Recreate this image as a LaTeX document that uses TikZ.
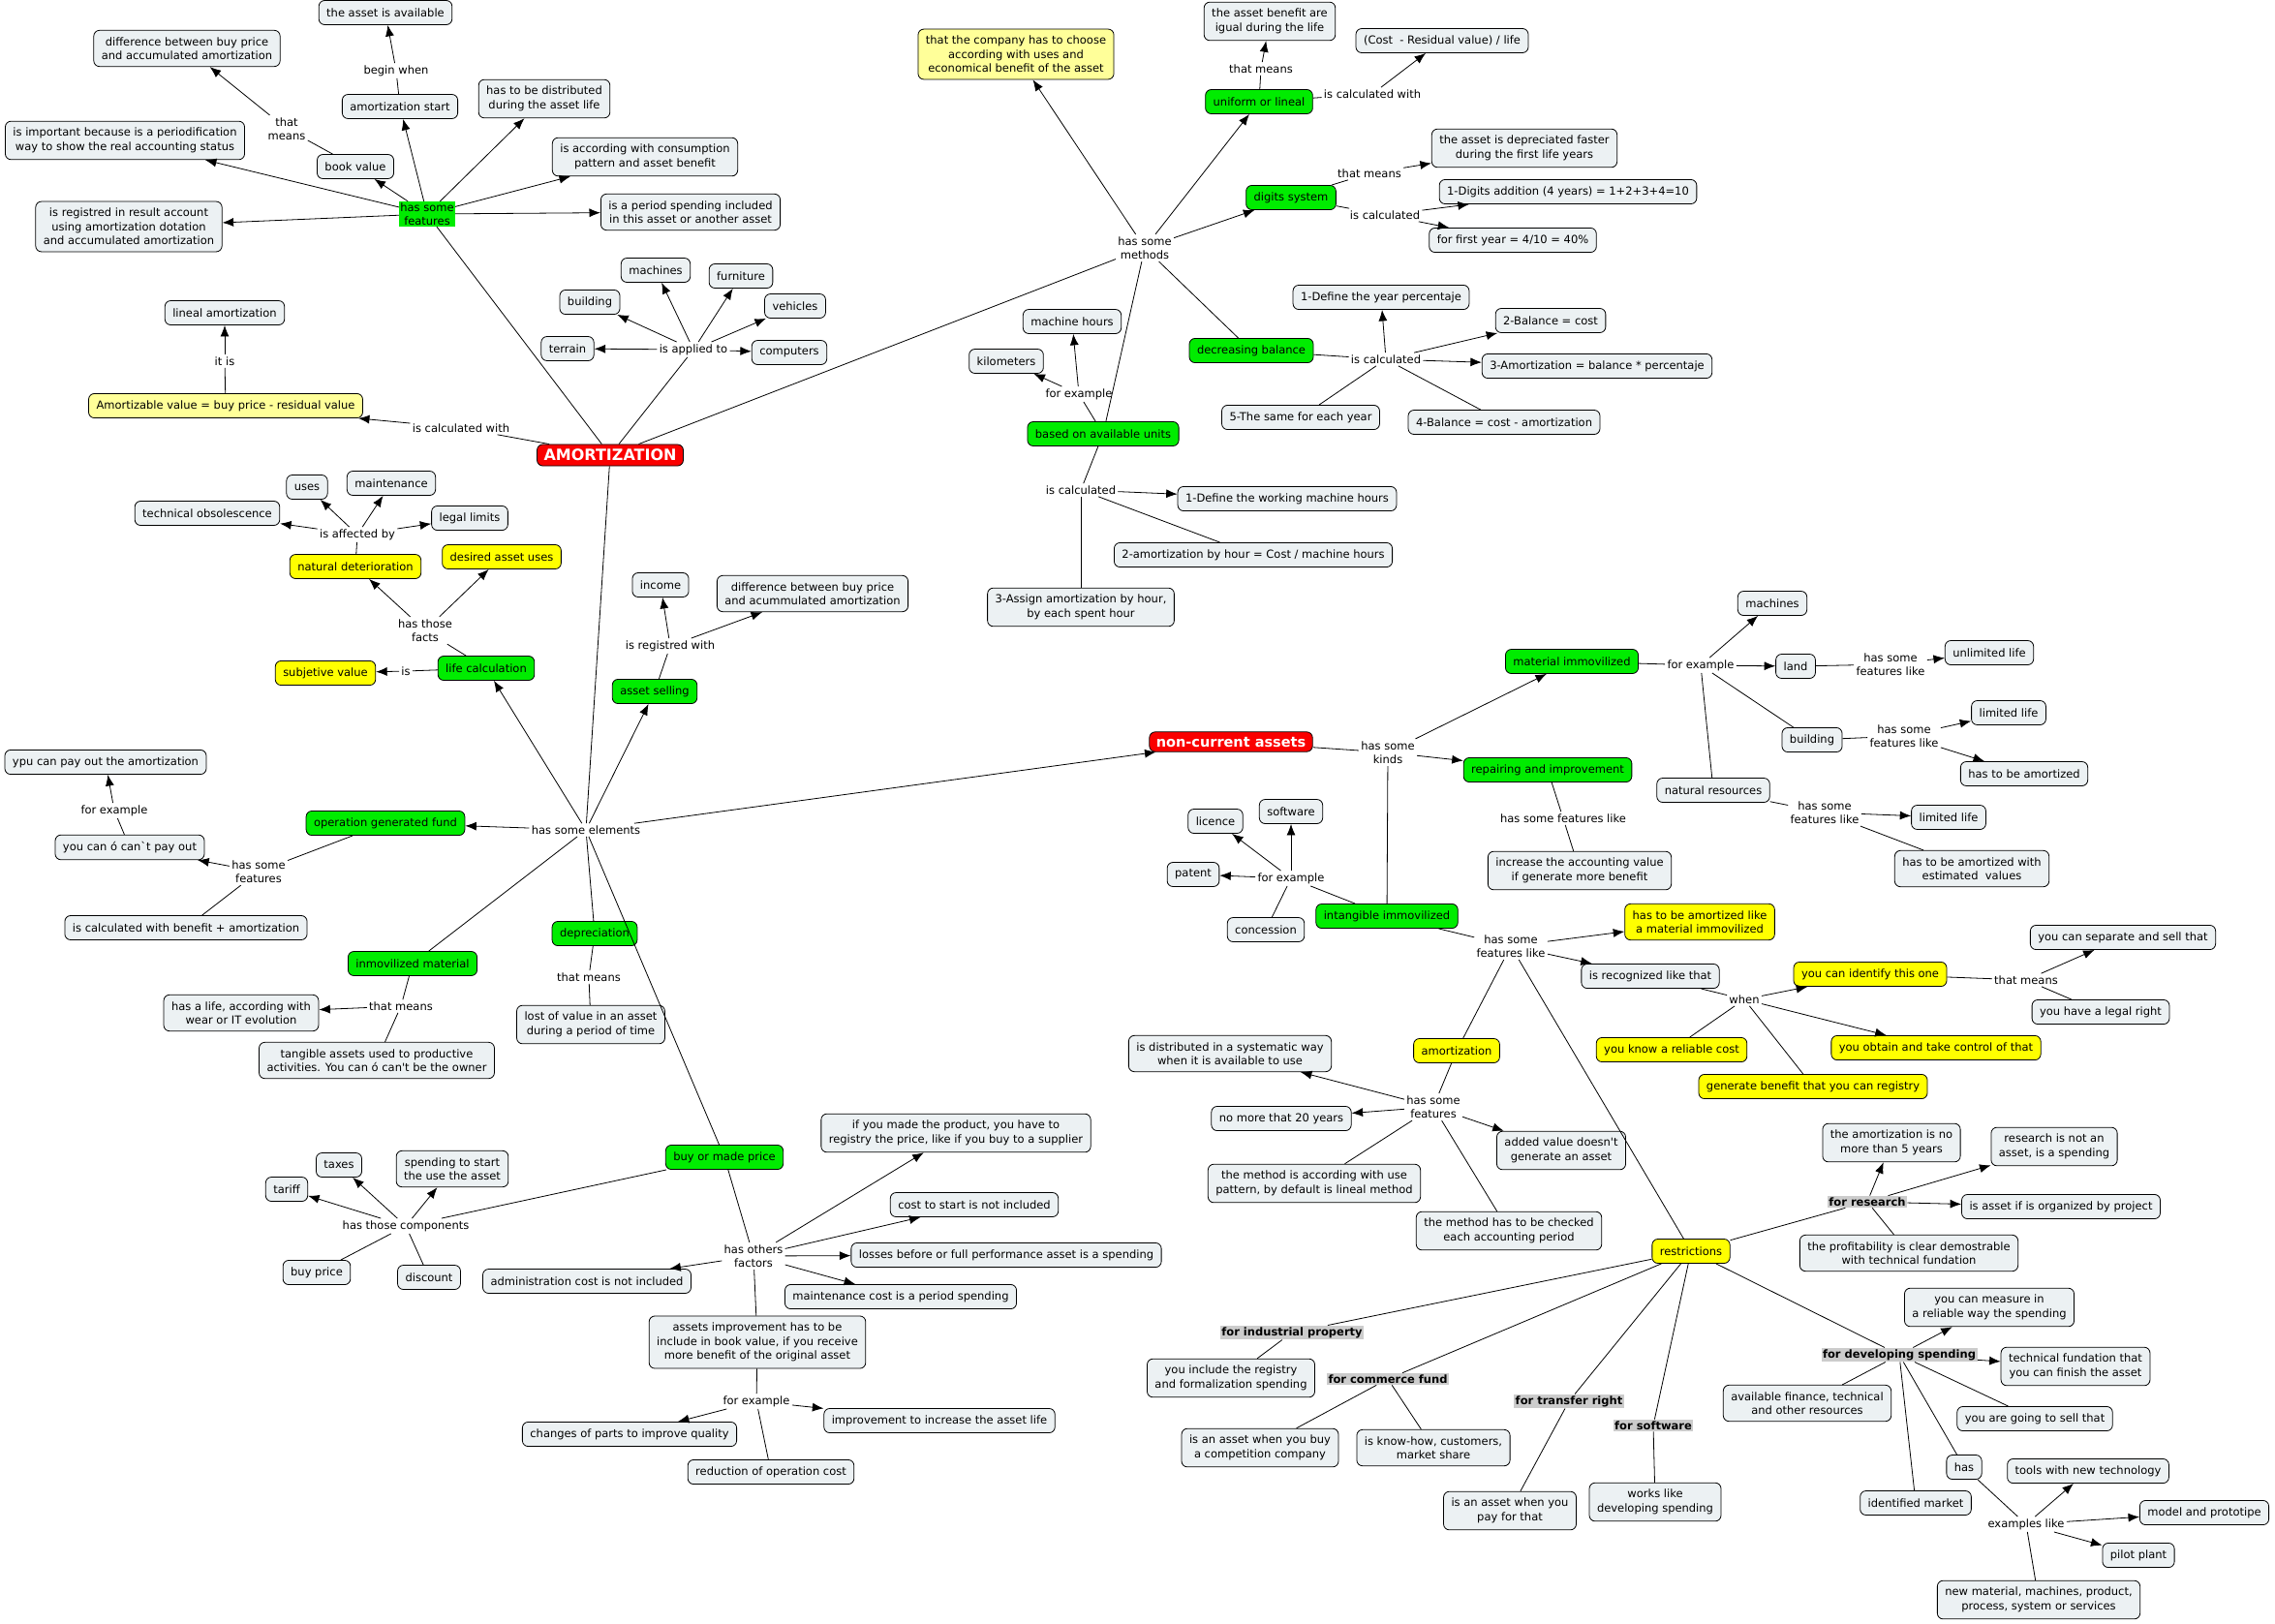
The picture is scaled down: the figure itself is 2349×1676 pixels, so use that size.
\documentclass[tikz,border=0pt]{standalone}
\usepackage{fontspec}
\setmainfont{DejaVu Sans}
\usetikzlibrary{arrows.meta}

\begin{document}
\begin{tikzpicture}[x=1pt,y=-1pt,>={Latex[length=11.5pt,width=9pt]},line width=0.8pt,
  every node/.style={font=\fontsize{11.5}{14.5}\selectfont,align=center},
  concept/.style={draw,rounded corners=6pt,fill=cbox,inner xsep=8pt,inner ysep=7pt,minimum height=25pt},
  greenc/.style={concept,fill=cgreen},
  yellc/.style={concept,fill=cyellow},
  paley/.style={concept,fill=cpale},
  mainc/.style={draw,rounded corners=6pt,fill=cred,text=white,inner xsep=7pt,inner ysep=5pt,
    font=\fontsize{14.5}{17}\selectfont\bfseries},
  lbl/.style={inner sep=2pt},
  greenlbl/.style={fill=cgreen,inner sep=1pt},
  greylbl/.style={fill=cgrey,inner sep=1.5pt,font=\fontsize{11.5}{14.5}\selectfont\bfseries}]

\definecolor{cbox}{RGB}{236,241,243}
\definecolor{cgreen}{RGB}{0,236,0}
\definecolor{cyellow}{RGB}{255,255,0}
\definecolor{cpale}{RGB}{255,255,153}
\definecolor{cred}{RGB}{250,0,0}
\definecolor{cgrey}{RGB}{204,204,204}

\path[use as bounding box,fill=white] (0,0) rectangle (2349,1676);

\node[concept] (avail) at (398,13) {the asset is available};
\node[concept] (diffbook) at (193,50) {difference between buy price\\and accumulated amortization};
\node[lbl] (beginw) at (409,73) {begin when};
\node[concept] (amstart) at (413,110) {amortization start};
\node[concept] (distrib) at (562,102) {has to be distributed\\during the asset life};
\node[lbl] (thatm1) at (296,133) {that\\means};
\node[concept] (important) at (129,145) {is important because is a periodification\\way to show the real accounting status};
\node[concept] (bookval) at (367,172) {book value};
\node[concept] (consum) at (666,162) {is according with consumption\\pattern and asset benefit};
\node[greenlbl] (feat1) at (441,221) {has some\\features};
\node[concept] (registred) at (133,234) {is registred in result account\\using amortization dotation\\and accumulated amortization};
\node[concept] (period) at (713,219) {is a period spending included\\in this asset or another asset};
\node[concept] (lineal) at (232,323) {lineal amortization};
\node[lbl] (itis) at (232,373) {it is};
\node[paley] (amortizable) at (233,419) {Amortizable value = buy price - residual value};
\node[lbl] (calcw) at (476,442) {is calculated with};
\node[mainc,font=\fontsize{16}{19}\selectfont\bfseries] (amort) at (630,470) {AMORTIZATION};

\node[concept] (machines1) at (677,279) {machines};
\node[concept] (furniture) at (765,285) {furniture};
\node[concept] (building1) at (609,312) {building};
\node[concept] (vehicles) at (821,316) {vehicles};
\node[concept] (terrain) at (586,360) {terrain};
\node[lbl] (applied) at (716,361) {is applied to};
\node[concept] (computers) at (815,364) {computers};

\node[concept] (uses) at (317,503) {uses};
\node[concept] (maint) at (404,499) {maintenance};
\node[concept] (obsol) at (214,530) {technical obsolescence};
\node[concept] (legal) at (485,535) {legal limits};
\node[lbl] (affected) at (369,552) {is affected by};
\node[yellc] (natdet) at (367,585) {natural deterioration};
\node[yellc] (desired) at (518,575) {desired asset uses};
\node[lbl] (facts) at (439,651) {has those\\facts};
\node[yellc] (subj) at (336,695) {subjetive value};
\node[lbl] (is1) at (419,693) {is};
\node[greenc] (lifecalc) at (502,690) {life calculation};

\node[paley] (choose) at (1049,56) {that the company has to choose\\according with uses and\\economical benefit of the asset};
\node[lbl] (methods) at (1182,256) {has some\\methods};
\node[concept] (benefit) at (1311,22) {the asset benefit are\\igual during the life};
\node[concept] (costres) at (1489,42) {(Cost\ \ - Residual value) / life};
\node[lbl] (thatm2) at (1302,71) {that means};
\node[greenc] (uniform) at (1300,105) {uniform or lineal};
\node[lbl] (calcw2) at (1417,97) {is calculated with};
\node[concept] (faster) at (1574,153) {the asset is depreciated faster\\during the first life years};
\node[lbl] (thatm3) at (1414,179) {that means};
\node[greenc] (digits) at (1333,204) {digits system};
\node[concept] (digadd) at (1619,198) {1-Digits addition (4 years) = 1+2+3+4=10};
\node[lbl] (calc3) at (1430,222) {is calculated};
\node[concept] (firstyr) at (1562,248) {for first year = 4/10 = 40\%};
\node[concept] (defyear) at (1426,307) {1-Define the year percentaje};
\node[concept] (balcost) at (1601,331) {2-Balance = cost};
\node[greenc] (decbal) at (1292,362) {decreasing balance};
\node[lbl] (calc4) at (1431,371) {is calculated};
\node[concept] (amortbal) at (1649,378) {3-Amortization = balance * percentaje};
\node[concept] (same) at (1343,431) {5-The same for each year};
\node[concept] (balamort) at (1553,436) {4-Balance = cost - amortization};
\node[concept] (machhours) at (1107,332) {machine hours};
\node[concept] (km) at (1039,373) {kilometers};
\node[lbl] (forex1) at (1114,407) {for example};
\node[greenc] (units) at (1139,448) {based on available units};
\node[lbl] (calc5) at (1116,506) {is calculated};
\node[concept] (defwork) at (1329,515) {1-Define the working machine hours};
\node[concept] (amorthour) at (1294,573) {2-amortization by hour = Cost / machine hours};
\node[concept] (assign) at (1116,627) {3-Assign amortization by hour,\\by each spent hour};

\node[concept] (income) at (682,604) {income};
\node[concept] (diffsell) at (839,613) {difference between buy price\\and acummulated amortization};
\node[lbl] (regw) at (692,667) {is registred with};
\node[greenc] (selling) at (676,714) {asset selling};
\node[lbl] (elements) at (605,857) {has some elements};
\node[greenc] (deprec) at (614,964) {depreciation};
\node[lbl] (thatm4) at (608,1009) {that means};
\node[concept] (lost) at (610,1058) {lost of value in an asset\\during a period of time};

\node[concept] (paycan) at (109,787) {ypu can pay out the amortization};
\node[lbl] (forex2) at (118,837) {for example};
\node[greenc] (opfund) at (398,850) {operation generated fund};
\node[concept] (canpay) at (134,875) {you can ó can\textasciigrave t pay out};
\node[lbl] (feat2) at (267,900) {has some\\features};
\node[concept] (benefitam) at (192,958) {is calculated with benefit + amortization};
\node[greenc] (inmov) at (426,995) {inmovilized material};
\node[lbl] (thatm5) at (414,1039) {that means};
\node[concept] (life) at (249,1046) {has a life, according with\\wear or IT evolution};
\node[concept] (tangible) at (389,1095) {tangible assets used to productive\\activities. You can ó can\textquotesingle t be the owner};

\node[concept] (taxes) at (350,1203) {taxes};
\node[concept] (spendstart) at (467,1207) {spending to start\\the use the asset};
\node[concept] (tariff) at (296,1228) {tariff};
\node[lbl] (comps) at (419,1266) {has those components};
\node[concept] (buyprice) at (327,1314) {buy price};
\node[concept] (discount) at (443,1319) {discount};
\node[concept] (admin) at (606,1323) {administration cost is not included};
\node[concept] (changes) at (650,1481) {changes of parts to improve quality};

\node[greenc] (buymade) at (748,1195) {buy or made price};
\node[concept] (made) at (987,1170) {if you made the product, you have to\\registry the price, like if you buy to a supplier};
\node[concept] (coststart) at (1006,1244) {cost to start is not included};
\node[lbl] (factors) at (778,1297) {has others\\factors};
\node[concept] (losses) at (1039,1296) {losses before or full performance asset is a spending};
\node[concept] (maintcost) at (930,1339) {maintenance cost is a period spending};
\node[concept] (improve) at (782,1386) {assets improvement has to be\\include in book value, if you receive\\more benefit of the original asset};
\node[lbl] (forex3) at (781,1447) {for example};
\node[concept] (increase) at (970,1467) {improvement to increase the asset life};
\node[concept] (reduction) at (796,1520) {reduction of operation cost};

\node[mainc] (noncur) at (1271,766) {non-current assets};
\node[lbl] (kinds) at (1433,777) {has some\\kinds};
\node[greenc] (matimm) at (1623,683) {material immovilized};
\node[lbl] (forex4) at (1756,687) {for example};
\node[greenc] (repair) at (1598,795) {repairing and improvement};
\node[concept] (natres) at (1769,816) {natural resources};
\node[lbl] (featlike1) at (1614,845) {has some features like};
\node[concept] (software) at (1333,838) {software};
\node[concept] (licence) at (1255,848) {licence};
\node[concept] (accval) at (1631,899) {increase the accounting value\\if generate more benefit};
\node[concept] (patent) at (1232,903) {patent};
\node[lbl] (forex5) at (1333,907) {for example};
\node[greenc] (intang) at (1432,946) {intangible immovilized};
\node[concept] (concession) at (1307,960) {concession};
\node[yellc] (amlike) at (1755,952) {has to be amortized like\\a material immovilized};
\node[lbl] (featlike2) at (1560,977) {has some\\features like};
\node[concept] (recog) at (1704,1008) {is recognized like that};
\node[yellc] (amortz) at (1504,1085) {amortization};
\node[yellc] (reliable) at (1726,1084) {you know a reliable cost};
\node[concept] (systematic) at (1270,1088) {is distributed in a systematic way\\when it is available to use};

\node[concept] (machines2) at (1830,623) {machines};
\node[concept] (land) at (1854,688) {land};
\node[lbl] (featland) at (1952,686) {has some\\features like};
\node[concept] (unlimited) at (2054,674) {unlimited life};
\node[concept] (limited1) at (2074,736) {limited life};
\node[concept] (building2) at (1871,764) {building};
\node[lbl] (featbuild) at (1966,760) {has some\\features like};
\node[concept] (hasamort) at (2090,799) {has to be amortized};
\node[lbl] (featnat) at (1884,839) {has some\\features like};
\node[concept] (limited2) at (2012,844) {limited life};
\node[concept] (estimated) at (2036,897) {has to be amortized with\\estimated\ \ values};
\node[concept] (separate) at (2192,968) {you can separate and sell that};
\node[yellc] (identify) at (1931,1006) {you can identify this one};
\node[lbl] (thatm6) at (2092,1012) {that means};
\node[lbl] (when) at (1801,1032) {when};
\node[concept] (legalright) at (2169,1045) {you have a legal right};
\node[yellc] (control) at (1999,1082) {you obtain and take control of that};

\node[yellc] (generate) at (1872,1122) {generate benefit that you can registry};
\node[concept] (fivey) at (1953,1180) {the amortization is no\\more than 5 years};
\node[concept] (research) at (2121,1184) {research is not an\\asset, is a spending};
\node[greylbl] (forres) at (1928,1241) {for research};
\node[concept] (project) at (2128,1246) {is asset if is organized by project};
\node[yellc] (restr) at (1746,1292) {restrictions};
\node[concept] (profit) at (1971,1294) {the profitability is clear demostrable\\with technical fundation};
\node[concept] (measure) at (2054,1350) {you can measure in\\a reliable way the spending};
\node[greylbl] (fordev) at (1961,1399) {for developing spending};
\node[concept] (techfund) at (2143,1411) {technical fundation that\\you can finish the asset};
\node[concept] (finance) at (1866,1449) {available finance, technical\\and other resources};
\node[concept] (sell) at (2101,1465) {you are going to sell that};
\node[concept] (has) at (2028,1515) {has};
\node[concept] (tools) at (2156,1519) {tools with new technology};
\node[concept] (market) at (1978,1552) {identified market};
\node[concept] (model) at (2276,1562) {model and prototipe};
\node[lbl] (exlike) at (2092,1574) {examples like};
\node[concept] (pilot) at (2208,1606) {pilot plant};
\node[concept] (newmat) at (2105,1652) {new material, machines, product,\\process, system or services};

\node[lbl] (feat3) at (1480,1143) {has some\\features};
\node[concept] (twenty) at (1323,1155) {no more that 20 years};
\node[concept] (added) at (1612,1188) {added value doesn\textquotesingle t\\generate an asset};
\node[concept] (usepat) at (1357,1222) {the method is according with use\\pattern, by default is lineal method};
\node[concept] (checked) at (1558,1271) {the method has to be checked\\each accounting period};
\node[greylbl] (forind) at (1334,1376) {for industrial property};
\node[concept] (include) at (1271,1423) {you include the registry\\and formalization spending};
\node[greylbl] (forcom) at (1433,1424) {for commerce fund};
\node[greylbl] (fortra) at (1620,1447) {for transfer right};
\node[greylbl] (forsoft) at (1707,1472) {for software};
\node[concept] (buycomp) at (1301,1495) {is an asset when you buy\\a competition company};
\node[concept] (knowhow) at (1480,1495) {is know-how, customers,\\market share};
\node[concept] (payfor) at (1559,1560) {is an asset when you\\pay for that};
\node[concept] (works) at (1709,1551) {works like\\developing spending};

\draw (amort) -- (feat1);
\foreach \t in {amstart,bookval,important,registred,distrib,consum,period}
  \draw[->] (feat1) -- (\t);
\draw (amstart) -- (beginw);
\draw[->] (beginw) -- (avail);
\draw (bookval) -- (thatm1);
\draw[->] (thatm1) -- (diffbook);
\draw (amort) -- (calcw);
\draw[->] (calcw) -- (amortizable);
\draw (amortizable) -- (itis);
\draw[->] (itis) -- (lineal);
\draw (amort) -- (applied);
\foreach \t in {terrain,building1,machines1,furniture,vehicles,computers}
  \draw[->] (applied) -- (\t);

\draw (amort) -- (methods);
\foreach \t in {choose,uniform,digits}
  \draw[->] (methods) -- (\t);
\draw (methods) -- (decbal);
\draw (methods) -- (units);
\draw (uniform) -- (thatm2);
\draw[->] (thatm2) -- (benefit);
\draw (uniform) -- (calcw2);
\draw[->] (calcw2) -- (costres);
\draw (digits) -- (thatm3);
\draw[->] (thatm3) -- (faster);
\draw (digits) -- (calc3);
\draw[->] (calc3) -- (digadd);
\draw[->] (calc3) -- (firstyr);
\draw (decbal) -- (calc4);
\foreach \t in {defyear,balcost,amortbal}
  \draw[->] (calc4) -- (\t);
\draw (calc4) -- (same);
\draw (calc4) -- (balamort);
\draw (units) -- (forex1);
\draw[->] (forex1) -- (machhours);
\draw[->] (forex1) -- (km);
\draw (units) -- (calc5);
\draw[->] (calc5) -- (defwork);
\draw (calc5) -- (amorthour);
\draw (calc5) -- (assign);

\draw (amort) -- (elements);
\foreach \t in {lifecalc,selling,opfund,noncur}
  \draw[->] (elements) -- (\t);
\foreach \t in {inmov,deprec,buymade}
  \draw (elements) -- (\t);
\draw (lifecalc) -- (is1);
\draw[->] (is1) -- (subj);
\draw (lifecalc) -- (facts);
\draw[->] (facts) -- (natdet);
\draw[->] (facts) -- (desired);
\draw (natdet) -- (affected);
\foreach \t in {uses,maint,obsol,legal}
  \draw[->] (affected) -- (\t);
\draw (selling) -- (regw);
\draw[->] (regw) -- (income);
\draw[->] (regw) -- (diffsell);
\draw (opfund) -- (feat2);
\draw[->] (feat2) -- (canpay);
\draw (feat2) -- (benefitam);
\draw (canpay) -- (forex2);
\draw[->] (forex2) -- (paycan);
\draw (inmov) -- (thatm5);
\draw[->] (thatm5) -- (life);
\draw (thatm5) -- (tangible);
\draw (deprec) -- (thatm4) -- (lost);

\draw (buymade) -- (comps);
\foreach \t in {tariff,taxes,spendstart}
  \draw[->] (comps) -- (\t);
\draw (comps) -- (buyprice);
\draw (comps) -- (discount);
\draw (buymade) -- (factors);
\foreach \t in {made,coststart,losses,maintcost,admin}
  \draw[->] (factors) -- (\t);
\draw (factors) -- (improve);
\draw (improve) -- (forex3);
\draw[->] (forex3) -- (changes);
\draw[->] (forex3) -- (increase);
\draw (forex3) -- (reduction);

\draw (noncur) -- (kinds);
\draw[->] (kinds) -- (matimm);
\draw[->] (kinds) -- (repair);
\draw (kinds) -- (intang);
\draw (matimm) -- (forex4);
\draw[->] (forex4) -- (machines2);
\draw[->] (forex4) -- (land);
\draw (forex4) -- (building2);
\draw (forex4) -- (natres);
\draw (land) -- (featland);
\draw[->] (featland) -- (unlimited);
\draw (building2) -- (featbuild);
\draw[->] (featbuild) -- (limited1);
\draw[->] (featbuild) -- (hasamort);
\draw (natres) -- (featnat);
\draw[->] (featnat) -- (limited2);
\draw (featnat) -- (estimated);
\draw (repair) -- (featlike1) -- (accval);
\draw (intang) -- (forex5);
\foreach \t in {licence,software,patent}
  \draw[->] (forex5) -- (\t);
\draw (forex5) -- (concession);
\draw (intang) -- (featlike2);
\draw[->] (featlike2) -- (amlike);
\draw[->] (featlike2) -- (recog);
\draw (featlike2) -- (amortz);
\draw (featlike2) -- (restr);
\draw (recog) -- (when);
\draw[->] (when) -- (identify);
\draw[->] (when) -- (control);
\draw (when) -- (reliable);
\draw (when) -- (generate);
\draw (identify) -- (thatm6);
\draw[->] (thatm6) -- (separate);
\draw (thatm6) -- (legalright);

\draw (amortz) -- (feat3);
\foreach \t in {systematic,twenty,added}
  \draw[->] (feat3) -- (\t);
\draw (feat3) -- (usepat);
\draw (feat3) -- (checked);
\draw (restr) -- (forres);
\foreach \t in {fivey,research,project}
  \draw[->] (forres) -- (\t);
\draw (forres) -- (profit);
\draw (restr) -- (fordev);
\draw[->] (fordev) -- (measure);
\draw[->] (fordev) -- (techfund);
\foreach \t in {finance,sell,market,has}
  \draw (fordev) -- (\t);
\draw (has) -- (exlike);
\foreach \t in {tools,model,pilot}
  \draw[->] (exlike) -- (\t);
\draw (exlike) -- (newmat);
\draw (restr) -- (forind) -- (include);
\draw (restr) -- (forcom);
\draw (forcom) -- (buycomp);
\draw (forcom) -- (knowhow);
\draw (restr) -- (fortra) -- (payfor);
\draw (restr) -- (forsoft) -- (works);

\end{tikzpicture}
\end{document}
